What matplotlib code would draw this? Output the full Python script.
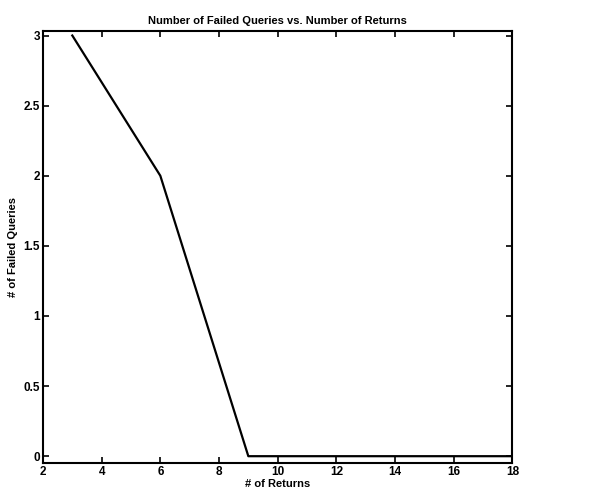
import matplotlib
matplotlib.use("Agg")
import matplotlib.pyplot as plt

# number of returns vs. failed queries
returns = [3, 6, 9, 10, 12, 14, 16, 18]
failed = [3, 2, 0, 0, 0, 0, 0, 0]

xticks = [2, 4, 6, 8, 10, 12, 14, 16, 18]
yticks = [0, 0.5, 1, 1.5, 2, 2.5, 3]
ytick_labels = ["0", "0.5", "1", "1.5", "2", "2.5", "3"]

plt.rcParams['font.family'] = ['Liberation Sans', 'DejaVu Sans']
plt.rcParams['font.weight'] = 'bold'

fig = plt.figure(figsize=(6.01, 4.97), dpi=100)
ax = fig.add_axes([0.0715, 0.068, 0.781, 0.869])

ax.plot(returns, failed, color='black', linewidth=1.6)

ax.set_xlim(2, 18)
ax.set_ylim(-0.05, 3.03)
ax.set_xticks(xticks)
ax.set_yticks(yticks)
ax.set_yticklabels(ytick_labels)
ax.tick_params(direction='in', top=True, right=True, length=4, width=1.2,
               labelsize=8.5, pad=2)
for s in ax.spines.values():
    s.set_linewidth(1.5)

ax.set_title("Number of Failed Queries vs. Number of Returns", fontsize=8,
             fontweight='bold', pad=5)
ax.set_xlabel("# of Returns", fontsize=8, fontweight='bold', labelpad=1)
ax.set_ylabel("# of Failed Queries", fontsize=8, fontweight='bold', labelpad=4)

fig.savefig("out.png", dpi=100)
